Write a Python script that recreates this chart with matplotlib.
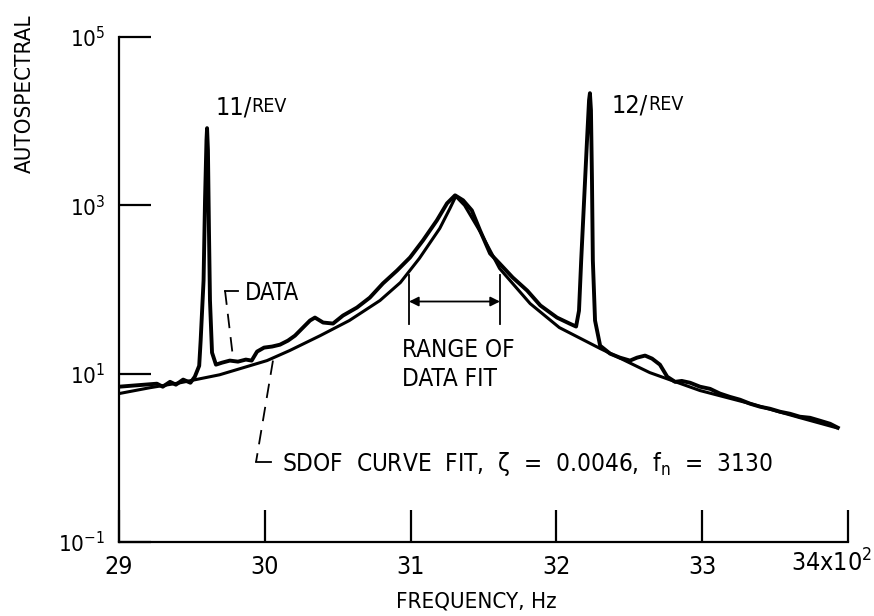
import matplotlib
matplotlib.use("Agg")
import matplotlib.pyplot as plt
import numpy as np

plt.rcParams['font.family'] = ['DejaVu Sans']
plt.rcParams['font.stretch'] = 'condensed'
plt.rcParams['mathtext.default'] = 'regular'

# ---- data ----
data_freq = [2900, 2926, 2930, 2935, 2939, 2944, 2949, 2952, 2955, 2956, 2958, 2959,
             2960, 2960.4, 2961, 2961.7, 2962.4, 2963.8, 2966.5, 2970.6, 2976, 2981.6,
             2987, 2991, 2994.7, 2999.5, 3005, 3010.4, 3015.9, 3020.7, 3026.2, 3031,
             3034.4, 3040, 3046.8, 3053.6, 3063.2, 3072, 3081, 3090.7, 3099.6, 3108.5,
             3118, 3125, 3130.5, 3136, 3142, 3147.6, 3154.5, 3161, 3170, 3180, 3189,
             3200.4, 3209, 3213.5, 3215.5, 3217, 3219, 3221, 3222.4, 3223, 3223.7,
             3224.4, 3225, 3226.5, 3230, 3236.8, 3243.6, 3250.5, 3255.3, 3260.8, 3265.6,
             3271, 3276, 3281.4, 3286, 3291.7, 3298.5, 3305.4, 3312.2, 3319, 3326,
             3332.8, 3339.7, 3346.5, 3353.4, 3360.2, 3367, 3374, 3380.8, 3387.7, 3393]
data_vals = [7.0, 7.6, 7.0, 8.0, 7.4, 8.5, 7.8, 9.2, 12.4, 24.7, 128, 1150,
             5940, 8260, 4520, 504, 74, 17.8, 12.8, 13.5, 14.3, 13.9,
             14.7, 14.3, 18.3, 20.4, 21.0, 22.1, 24.7, 28.3, 35.3, 42.8,
             46.4, 40.5, 39.4, 49, 61, 80, 118, 168, 240, 383,
             662, 1057, 1315, 1148, 871, 504, 268, 204, 139, 97, 64.6,
             46.4, 39.4, 36.3, 56, 221, 1150, 5940, 17800, 21500, 13500,
             1990, 221, 42.8, 21.5, 17.3, 15.5, 14.3, 15.5, 16.4, 15.1,
             12.8, 9.2, 8.0, 8.2, 7.8, 7.0, 6.6, 5.8, 5.3, 4.9,
             4.4, 4.05, 3.83, 3.53, 3.34, 3.08, 2.99, 2.76, 2.54, 2.28]

fit_freq = [2900, 2921, 2942, 2969, 3001.5, 3017, 3038, 3058, 3079, 3093, 3106, 3120,
            3127, 3131, 3137, 3148, 3161, 3182, 3202, 3230, 3264, 3298.5, 3333, 3367, 3392]
fit_vals = [5.8, 6.8, 7.8, 9.7, 14.3, 18.8, 28.3, 42.8, 74, 121, 234, 532,
            920, 1280, 1000, 477, 178, 68, 35.3, 19.9, 10.3, 6.3, 4.4, 3.0, 2.28]

y_ticks = [1e-1, 1e1, 1e3, 1e5]
y_ticklabels = [r'$10^{-1}$', r'$10^{1}$', r'$10^{3}$', r'$10^{5}$']
x_ticks = [2900, 3000, 3100, 3200, 3300, 3400]
x_ticklabels = ['29', '30', '31', '32', '33', '']

fig = plt.figure(figsize=(8.74, 6.16), dpi=100)
ax = fig.add_axes([119/874, 1-542/616, (848-119)/874, (542-37)/616])

ax.plot(data_freq, data_vals, color='black', lw=2.8, solid_joinstyle='round')
ax.plot(fit_freq, fit_vals, color='black', lw=2.2)

ax.set_yscale('log')
ax.set_xlim(2900, 3400)
ax.set_ylim(1e-1, 1e5)
ax.spines['top'].set_visible(False)
ax.spines['right'].set_visible(False)
ax.spines['left'].set_linewidth(1.6)
ax.spines['bottom'].set_linewidth(1.6)

ax.set_yticks(y_ticks)
ax.set_yticklabels(y_ticklabels)
ax.yaxis.set_minor_locator(matplotlib.ticker.NullLocator())
ax.set_xticks(x_ticks)
ax.set_xticklabels(x_ticklabels)
ax.tick_params(axis='both', direction='in', length=23, width=1.6, labelsize=18)
ax.tick_params(axis='y', pad=10, labelsize=16)
ax.tick_params(axis='x', pad=9)

fig.text(872/874, 1-563/616, r'$34x10^{2}$', fontsize=18, ha='right', va='center')

# axis labels
fig.text(25/874, 1-94/616, 'AUTOSPECTRAL', rotation=90, ha='center', va='center', fontsize=16)
fig.text(476/874, 1-602/616, 'FREQUENCY, Hz', ha='center', va='center', fontsize=16)

# peak labels
t1 = ax.text(2966, 10**(5-(107-37)/84), '11/', fontsize=18, ha='left', va='center')
ax.annotate('REV', xy=(1, 0.12), xycoords=t1, fontsize=14, ha='left', va='bottom')
t2 = ax.text(3238, 10**(5-(105-37)/84), '12/', fontsize=18, ha='left', va='center')
ax.annotate('REV', xy=(1, 0.12), xycoords=t2, fontsize=14, ha='left', va='bottom')

# DATA label with leader
ax.text(2986.5, 10**(5-(292-37)/84), 'DATA', fontsize=17, ha='left', va='center')
ax.plot([2972.7, 2981.6], [97.3, 97.3], color='black', lw=1.3)
ax.plot([2972.7, 2978.2], [97.3, 15.5], color='black', lw=1.3, dashes=(8, 5))

# SDOF label with leader
ax.plot([3005.6, 2994], [14.3, 0.895], color='black', lw=1.3, dashes=(8, 5))
ax.plot([2994, 3004.3], [0.895, 0.895], color='black', lw=1.3)
ax.text(3011.8, 0.85, r'SDOF  CURVE  FIT,  ζ  =  0.0046,  f$_n$  =  3130',
        fontsize=17.5, ha='left', va='center')

# range of data fit
ax.plot([3098.9, 3098.9], [147, 39.4], color='black', lw=1.3)
ax.plot([3161.3, 3161.3], [147, 39.4], color='black', lw=1.3)
ax.annotate('', xy=(3098.9, 72), xytext=(3161.3, 72),
            arrowprops=dict(arrowstyle='<|-|>', color='black', lw=1.3,
                            mutation_scale=14, shrinkA=0, shrinkB=0))
ax.text(3094, 10**(5-(364-37)/84), 'RANGE OF\nDATA FIT', fontsize=17.5,
        ha='left', va='center', linespacing=1.3)

fig.savefig('out.png', dpi=100)
